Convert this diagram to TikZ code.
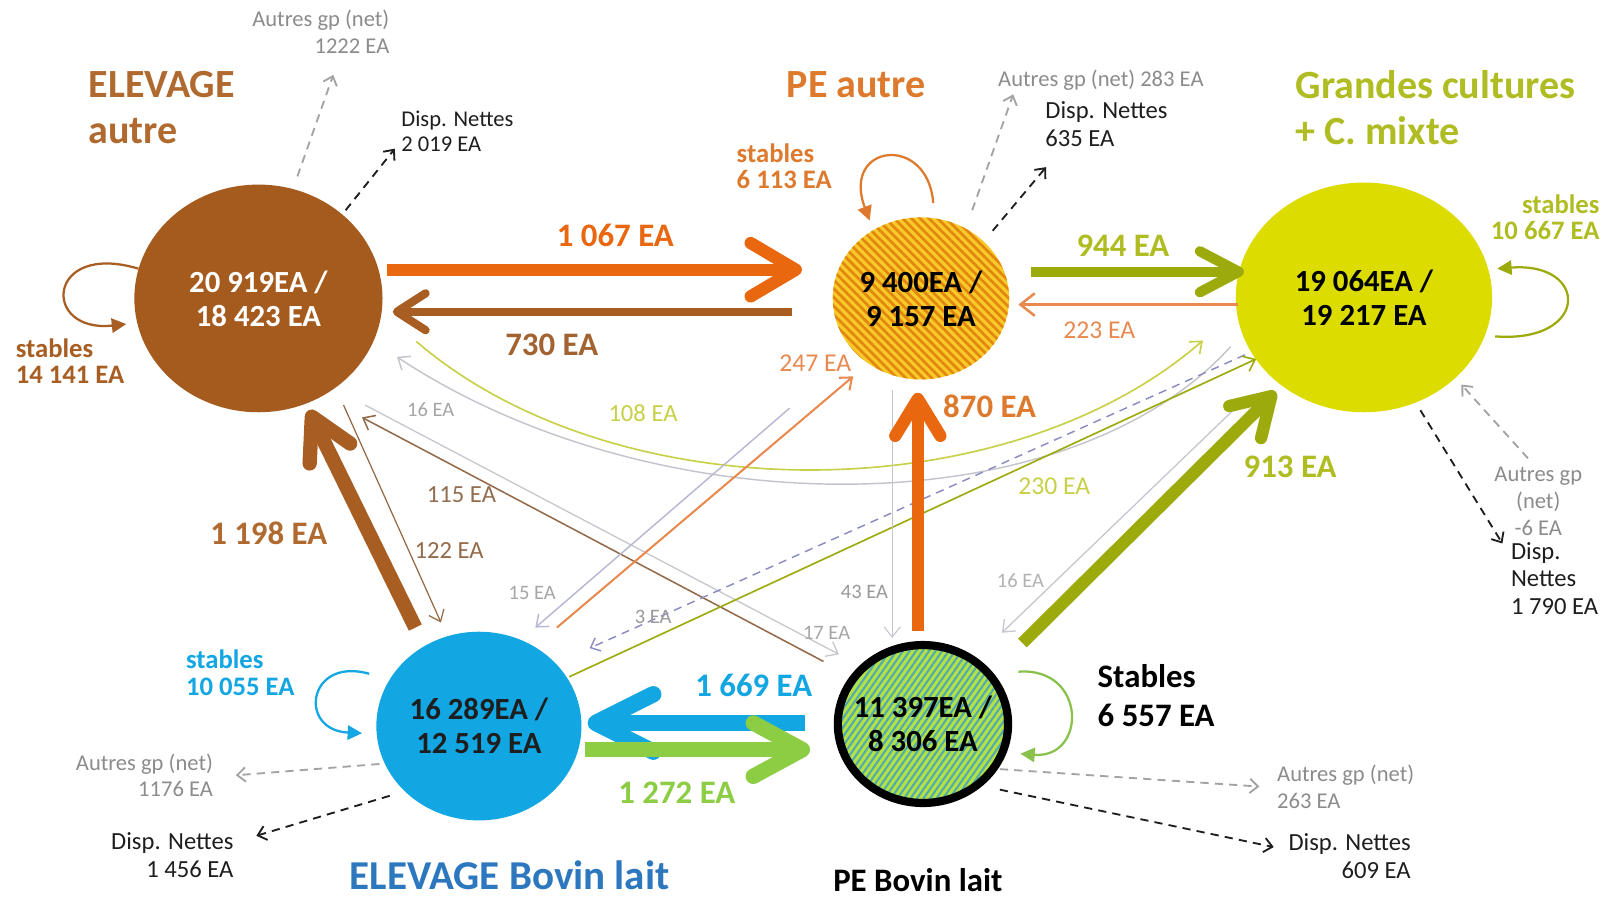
\documentclass[tikz,border=0pt]{standalone}
\usepackage{fontspec}
\setmainfont{Carlito}
\usetikzlibrary{arrows.meta,calc,shapes.geometric,patterns.meta}

\definecolor{brun}{HTML}{A55A1E}
\definecolor{brunT}{HTML}{B06A30}
\definecolor{brunF}{HTML}{A85E22}
\definecolor{orangeF}{HTML}{E8670F}
\definecolor{orangeT}{HTML}{DD7A2E}
\definecolor{orangeC}{HTML}{E88A50}
\definecolor{jauneP}{HTML}{F7CA2A}
\definecolor{orangeP}{HTML}{E2860E}
\definecolor{jauneGC}{HTML}{DCDC00}
\definecolor{olive}{HTML}{9DAA0C}
\definecolor{oliveT}{HTML}{B0BD22}
\definecolor{oliveC}{HTML}{C8D048}
\definecolor{bleu}{HTML}{12A6E2}
\definecolor{bleuT}{HTML}{2C77BE}
\definecolor{vert}{HTML}{8CCD44}
\definecolor{vertP}{HTML}{B2E244}
\definecolor{tealP}{HTML}{52AAB0}
\definecolor{gris}{HTML}{8C8C8C}
\definecolor{grisC}{HTML}{C4C4CC}
\definecolor{noir}{HTML}{1E1E1E}

\begin{document}
\begin{tikzpicture}[x=0.5pt,y=-0.5pt,
    groupe/.style={ellipse,inner sep=0pt},
    lab/.style={align=center,inner sep=0pt,font=\fontsize{15}{16.5}\selectfont\bfseries},
    titre/.style={align=left,inner sep=0pt,font=\fontsize{19.5}{22.5}\selectfont\bfseries},
    stab/.style={align=left,inner sep=0pt,font=\fontsize{13}{13}\selectfont\bfseries},
    gros/.style={inner sep=0pt,font=\fontsize{16}{18}\selectfont\bfseries},
    moyen/.style={inner sep=0pt,font=\fontsize{12.5}{14}\selectfont},
    petit/.style={inner sep=0pt,font=\fontsize{10}{12}\selectfont},
    ext/.style={inner sep=0pt,text=gris,font=\fontsize{11}{13}\selectfont},
    disp/.style={inner sep=0pt,text=noir,font=\fontsize{12}{13.5}\selectfont},
    tete/.style 2 args={-{Straight Barb[round,length=#1,width=#2]}},
    fin/.style={line width=#1,-{Straight Barb[length=5pt,width=8pt]}},
    pointille/.style={dash pattern=on 4pt off 3pt,line width=0.9pt,-{Straight Barb[length=4pt,width=7pt]}},
    boucle/.style={line width=1.1pt,-{Triangle[length=7pt,width=7pt]}}]

  \fill[white] (0,0) rectangle (1568,877);
  \useasboundingbox (0,0) rectangle (1568,877);

  % groupes
  \node[groupe,fill=brun,minimum width=121pt,minimum height=111pt,
    label={[lab,text=white]center:20 919EA /\\18 423 EA}] (ea) at (252,291) {};
  \node[groupe,preaction={fill=jauneP},pattern={Lines[angle=-45,distance=3pt,line width=1.3pt]},
    pattern color=orangeP,minimum width=86pt,minimum height=79pt,
    label={[lab,text=black]center:9 400EA /\\9 157 EA}] (pea) at (898,291) {};
  \node[groupe,fill=jauneGC,minimum width=125pt,minimum height=112pt,
    label={[lab,text=black]center:19 064EA /\\19 217 EA}] (gc) at (1330,290) {};
  \node[groupe,fill=bleu,minimum width=100pt,minimum height=92pt,
    label={[lab,text=noir]center:16 289EA /\\12 519 EA}] (ebl) at (467,708) {};
  \node[groupe,draw=black,line width=4pt,preaction={fill=vertP},
    pattern={Lines[angle=55,distance=2.6pt,line width=1pt]},pattern color=tealP,
    minimum width=83pt,minimum height=77pt,
    label={[lab,text=black]center:11 397EA /\\8 306 EA}] (pebl) at (900,706) {};

  % titres
  \node[titre,text=brunT,anchor=west] (eaT) at (86,105) {ELEVAGE\\autre};
  \node[titre,text=orangeT] (peaT) at (835,83) {PE autre};
  \node[titre,text=oliveT,anchor=west] (gcT) at (1263,105) {Grandes cultures\\+ C. mixte};
  \node[titre,text=bleuT,font=\fontsize{20}{22}\selectfont\bfseries] (eblT) at (497,853) {ELEVAGE Bovin lait};
  \node[titre,text=black,font=\fontsize{16}{18}\selectfont\bfseries] (peblT) at (895,858) {PE Bovin lait};

  % stables
  \node[stab,text=brunF,anchor=west] (eaS) at (15,352) {stables\\14 141 EA};
  \node[stab,text=orangeT,anchor=west] (peaS) at (718,162) {stables\\6 113 EA};
  \node[stab,text=oliveT,align=right,anchor=east] (gcS) at (1560,212) {stables\\10 667 EA};
  \node[stab,text=bleu,anchor=west] (eblS) at (181,656) {stables\\10 055 EA};
  \node[stab,text=black,anchor=west,font=\fontsize{16}{19}\selectfont\bfseries] (peblS) at (1070,678) {Stables\\6 557 EA};

  \draw[boucle,brunF] ($(ea)+(-117,-29)$) .. controls +(-90,-27) and +(-83,9) .. ($(ea)+(-129,25)$);
  \draw[boucle,orangeT] ($(pea)+(12,-93)$) .. controls +(-5,-68) and +(-28,-75) .. ($(pea)+(-50,-76)$);
  \draw[boucle,olive] ($(gc)+(128,38)$) .. controls +(92,7) and +(90,-7) .. ($(gc)+(130,-28)$);
  \draw[boucle,bleu] ($(ebl)+(-107,-51)$) .. controls +(-60,-17) and +(-63,-3) .. ($(ebl)+(-114,7)$);
  \draw[boucle,vert!85!gray] ($(pebl)+(93,-51)$) .. controls +(67,-5) and +(65,5) .. ($(pebl)+(95,29)$);

  % flux faibles
  \draw[fin=0.6pt,brun!60!gray] ($(ea)+(83,104)$) -- ($(ebl)+(-37,-101)$);
  \draw[fin=0.75pt,brun!55!gray] ($(pebl)+(-97,-61)$) -- ($(ea)+(101,116)$);
  \draw[fin=0.6pt,grisC] ($(ea)+(104,104)$) -- ($(pebl)+(-82,-68)$);
  \draw[fin=0.7pt,grisC] ($(gc)+(-130,48)$) .. controls +(-160,177) and +(253,167) .. ($(ea)+(135,57)$);
  \draw[fin=0.8pt,oliveC] ($(ea)+(154,42)$) .. controls +(194,167) and +(-193,168) .. ($(gc)+(-157,42)$);
  \draw[pointille,line width=0.7pt,blue!30!gray!70] ($(gc)+(-116,56)$) -- ($(ebl)+(108,-76)$);
  \draw[fin=0.8pt,olive] ($(ebl)+(88,-48)$) -- ($(gc)+(-105,60)$);
  \draw[fin=0.7pt,blue!25!gray!45] ($(pea)+(-128,107)$) -- ($(ebl)+(55,-96)$);
  \draw[fin=1pt,orangeC] ($(ebl)+(76,-96)$) -- ($(pea)+(-66,76)$);
  \draw[fin=0.5pt,grisC] ($(pea)+(-28,89)$) -- ($(pebl)+(-30,-84)$);
  \draw[fin=0.6pt,grisC] ($(gc)+(-114,97)$) -- ($(pebl)+(77,-89)$);
  \draw[line width=1.25pt,orangeC,-{Straight Barb[length=7pt,width=11pt]}] ($(gc)+(-123,7)$) -- ($(pea)+(95,6)$);

  \node[moyen,text=orangeC] (l223) at (1072,322) {223 EA};
  \node[moyen,text=orangeC] (l247) at (795,354) {247 EA};
  \node[moyen,text=brun!55!gray,font=\fontsize{12}{14}\selectfont] (l122) at (438,537) {122 EA};
  \node[moyen,text=brun!50!gray,font=\fontsize{12}{14}\selectfont] (l115) at (450,482) {115 EA};
  \node[moyen,text=oliveC,font=\fontsize{12}{14}\selectfont] (l108) at (627,403) {108 EA};
  \node[moyen,text=oliveC] (l230) at (1028,474) {230 EA};
  \node[petit,text=gray!70] (l16a) at (420,399) {16 EA};
  \node[petit,text=gray!70] (l15) at (519,578) {15 EA};
  \node[petit,text=gray!80] (l3) at (637,602) {3 EA};
  \node[petit,text=gray!70] (l17) at (806,617) {17 EA};
  \node[petit,text=gray!80] (l43) at (843,577) {43 EA};
  \node[petit,text=gray!60] (l16b) at (995,566) {16 EA};

  % flux forts
  \draw[line width=6pt,orangeF,tete={22pt}{26pt}] ($(ea)+(125,-28)$) -- ($(pea)+(-116,-28)$);
  \draw[line width=4pt,brunF,tete={14pt}{18pt}] ($(pea)+(-126,13)$) -- ($(ea)+(131,13)$);
  \draw[line width=7pt,brunF,tete={20pt}{22pt}] ($(ebl)+(-62,-96)$) -- ($(ea)+(49,109)$);
  \draw[line width=6pt,orangeF,tete={18pt}{22pt}] ($(pebl)+(-5,-91)$) -- ($(pea)+(-3,92)$);
  \draw[line width=5pt,olive,tete={19pt}{20pt}] ($(pea)+(107,-26)$) -- ($(gc)+(-117,-25)$);
  \draw[line width=6pt,olive,tete={18pt}{22pt}] ($(pebl)+(97,-79)$) -- ($(gc)+(-86,92)$);
  \draw[line width=8pt,bleu,tete={28pt}{28pt}] ($(pebl)+(-115,-1)$) -- ($(ebl)+(106,-3)$);
  \draw[line width=7.5pt,vert,tete={24pt}{26pt}] ($(ebl)+(103,23)$) -- ($(pebl)+(-110,25)$);

  \node[gros,text=orangeF] (l1067) at (600,230) {1 067 EA};
  \node[gros,text=brunF!85!gray] (l730) at (538,336) {730 EA};
  \node[gros,text=brunT] (l1198) at (262,520) {1 198 EA};
  \node[gros,text=orangeT] (l870) at (965,396) {870 EA};
  \node[gros,text=oliveT] (l944) at (1095,240) {944 EA};
  \node[gros,text=oliveT] (l913) at (1258,455) {913 EA};
  \node[gros,text=bleu] (l1669) at (735,668) {1 669 EA};
  \node[gros,text=vert] (l1272) at (660,773) {1 272 EA};

  % entrees et sorties
  \node[ext,align=right,anchor=east] (eaA) at (380,31) {Autres gp (net)\\1222 EA};
  \node[disp,align=left,anchor=west,font=\fontsize{11}{12.5}\selectfont] (eaD) at (391,128) {Disp. Nettes\\2 019 EA};
  \node[ext,anchor=west] (peaA) at (973,78) {Autres gp (net) 283 EA};
  \node[disp,align=left,anchor=west] (peaD) at (1019,121) {Disp. Nettes\\635 EA};
  \node[ext,align=center] (gcA) at (1500,489) {Autres gp\\(net)\\-6 EA};
  \node[disp,align=left,anchor=west] (gcD) at (1473,564) {Disp.\\Nettes\\1 790 EA};
  \node[ext,align=right,anchor=east] (eblA) at (208,756) {Autres gp (net)\\1176 EA};
  \node[disp,align=right,anchor=east] (eblD) at (228,834) {Disp. Nettes\\1 456 EA};
  \node[ext,align=left,anchor=west] (peblA) at (1245,767) {Autres gp (net)\\263 EA};
  \node[disp,align=right,anchor=east] (peblD) at (1376,835) {Disp. Nettes\\609 EA};

  \coordinate (eaA1) at (325,73);
  \coordinate (eaD1) at (385,145);
  \coordinate (peaA1) at (988,92);
  \coordinate (peaD1) at (1020,163);
  \coordinate (gcA1) at (1490,447);
  \coordinate (gcD1) at (1465,530);
  \coordinate (eblA1) at (230,756);
  \coordinate (eblD1) at (250,815);
  \coordinate (peblA1) at (1228,767);
  \coordinate (peblD1) at (1242,826);

  \draw[pointille,gris!80] ($(ea)+(38,-119)$) -- (eaA1);
  \draw[pointille,noir] ($(ea)+(85,-86)$) -- (eaD1);
  \draw[pointille,gris!80] ($(pea)+(50,-86)$) -- (peaA1);
  \draw[pointille,noir] ($(pea)+(70,-66)$) -- (peaD1);
  \draw[pointille,gris!80] (gcA1) -- ($(gc)+(95,85)$);
  \draw[pointille,noir] ($(gc)+(55,110)$) -- (gcD1);
  \draw[pointille,gris!80] ($(ebl)+(-97,37)$) -- (eblA1);
  \draw[pointille,noir] ($(ebl)+(-87,68)$) -- (eblD1);
  \draw[pointille,gris!80] ($(pebl)+(75,44)$) -- (peblA1);
  \draw[pointille,noir] ($(pebl)+(75,64)$) -- (peblD1);
\end{tikzpicture}
\end{document}
